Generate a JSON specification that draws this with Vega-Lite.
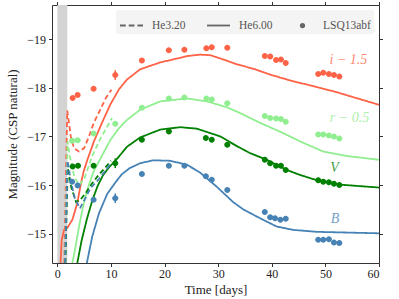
{
  "$schema": "https://vega.github.io/schema/vega-lite/v6.json",
  "width": 327,
  "height": 258,
  "autosize": {"type": "none"},
  "padding": {"left": 52, "top": 5, "right": 20, "bottom": 36},
  "background": "white",
  "config": {
    "font": "Liberation Serif",
    "view": {"stroke": "#333", "strokeWidth": 1},
    "axis": {
      "grid": false,
      "domain": false,
      "tickColor": "#333",
      "tickSize": 3.5,
      "tickWidth": 1,
      "labelFont": "Liberation Serif",
      "labelFontSize": 12,
      "labelColor": "#222",
      "titleFont": "Liberation Serif",
      "titleFontSize": 13,
      "titleFontWeight": "normal",
      "titleColor": "#222"
    }
  },
  "datasets": {
    "band": [{"t0": 0, "t1": 1.85}],
    "obs": [
      {"band": "i", "t": 2.85, "m": -17.79}, {"band": "i", "t": 3.78, "m": -17.85}, {"band": "i", "t": 6.76, "m": -17.98}, {"band": "i", "t": 10.8, "m": -18.26}, {"band": "i", "t": 15.77, "m": -18.56}, {"band": "i", "t": 20.8, "m": -18.77}, {"band": "i", "t": 23.7, "m": -18.78}, {"band": "i", "t": 27.8, "m": -18.81}, {"band": "i", "t": 28.8, "m": -18.83}, {"band": "i", "t": 31.7, "m": -18.82}, {"band": "i", "t": 38.7, "m": -18.65}, {"band": "i", "t": 39.7, "m": -18.64}, {"band": "i", "t": 40.8, "m": -18.57}, {"band": "i", "t": 41.7, "m": -18.58}, {"band": "i", "t": 42.6, "m": -18.51}, {"band": "i", "t": 48.66, "m": -18.28}, {"band": "i", "t": 49.6, "m": -18.31}, {"band": "i", "t": 50.65, "m": -18.28}, {"band": "i", "t": 51.6, "m": -18.26}, {"band": "i", "t": 52.6, "m": -18.23},
      {"band": "r", "t": 2.75, "m": -16.91}, {"band": "r", "t": 3.78, "m": -16.92}, {"band": "r", "t": 6.76, "m": -17.06}, {"band": "r", "t": 10.8, "m": -17.26}, {"band": "r", "t": 15.77, "m": -17.59}, {"band": "r", "t": 20.8, "m": -17.78}, {"band": "r", "t": 23.7, "m": -17.8}, {"band": "r", "t": 27.8, "m": -17.78}, {"band": "r", "t": 28.8, "m": -17.76}, {"band": "r", "t": 31.7, "m": -17.68}, {"band": "r", "t": 38.7, "m": -17.42}, {"band": "r", "t": 39.7, "m": -17.38}, {"band": "r", "t": 40.8, "m": -17.37}, {"band": "r", "t": 41.7, "m": -17.36}, {"band": "r", "t": 42.6, "m": -17.3}, {"band": "r", "t": 48.66, "m": -17.04}, {"band": "r", "t": 49.6, "m": -17.04}, {"band": "r", "t": 50.65, "m": -17.02}, {"band": "r", "t": 51.6, "m": -17.0}, {"band": "r", "t": 52.6, "m": -16.96},
      {"band": "V", "t": 2.85, "m": -16.38}, {"band": "V", "t": 3.85, "m": -16.4}, {"band": "V", "t": 6.76, "m": -16.4}, {"band": "V", "t": 10.8, "m": -16.45}, {"band": "V", "t": 15.77, "m": -16.93}, {"band": "V", "t": 20.8, "m": -17.1}, {"band": "V", "t": 27.7, "m": -16.97}, {"band": "V", "t": 28.8, "m": -16.93}, {"band": "V", "t": 31.7, "m": -16.83}, {"band": "V", "t": 38.7, "m": -16.52}, {"band": "V", "t": 39.7, "m": -16.45}, {"band": "V", "t": 40.8, "m": -16.4}, {"band": "V", "t": 41.7, "m": -16.4}, {"band": "V", "t": 42.6, "m": -16.31}, {"band": "V", "t": 48.66, "m": -16.1}, {"band": "V", "t": 49.6, "m": -16.07}, {"band": "V", "t": 50.65, "m": -16.06}, {"band": "V", "t": 51.6, "m": -16.03}, {"band": "V", "t": 52.6, "m": -16.0},
      {"band": "B", "t": 2.75, "m": -16.07}, {"band": "B", "t": 3.78, "m": -15.99}, {"band": "B", "t": 6.76, "m": -15.7}, {"band": "B", "t": 10.8, "m": -15.73}, {"band": "B", "t": 15.77, "m": -16.23}, {"band": "B", "t": 20.8, "m": -16.4}, {"band": "B", "t": 23.7, "m": -16.4}, {"band": "B", "t": 27.7, "m": -16.18}, {"band": "B", "t": 28.8, "m": -16.11}, {"band": "B", "t": 31.7, "m": -15.9}, {"band": "B", "t": 38.7, "m": -15.45}, {"band": "B", "t": 39.7, "m": -15.34}, {"band": "B", "t": 40.6, "m": -15.32}, {"band": "B", "t": 41.6, "m": -15.29}, {"band": "B", "t": 42.6, "m": -15.31}, {"band": "B", "t": 48.66, "m": -14.88}, {"band": "B", "t": 49.6, "m": -14.88}, {"band": "B", "t": 50.65, "m": -14.89}, {"band": "B", "t": 51.6, "m": -14.82}, {"band": "B", "t": 52.6, "m": -14.81}
    ],
    "err": [
      {"band": "i", "t": 10.8, "lo": -18.36, "hi": -18.16},
      {"band": "r", "t": 10.8, "lo": -17.31, "hi": -17.21},
      {"band": "V", "t": 10.8, "lo": -16.55, "hi": -16.35},
      {"band": "B", "t": 10.8, "lo": -15.83, "hi": -15.63}
    ],
    "models": [
      {"band": "i", "model": "He6.00", "t": 0.6, "m": -14.4}, {"band": "i", "model": "He6.00", "t": 0.8, "m": -14.87}, {"band": "i", "model": "He6.00", "t": 1.25, "m": -15.08}, {"band": "i", "model": "He6.00", "t": 1.86, "m": -15.12}, {"band": "i", "model": "He6.00", "t": 2.8, "m": -15.29}, {"band": "i", "model": "He6.00", "t": 3.72, "m": -15.63}, {"band": "i", "model": "He6.00", "t": 4.34, "m": -16.0}, {"band": "i", "model": "He6.00", "t": 4.9, "m": -16.28}, {"band": "i", "model": "He6.00", "t": 5.6, "m": -16.52}, {"band": "i", "model": "He6.00", "t": 6.83, "m": -16.9}, {"band": "i", "model": "He6.00", "t": 8.4, "m": -17.3}, {"band": "i", "model": "He6.00", "t": 9.9, "m": -17.66}, {"band": "i", "model": "He6.00", "t": 11.5, "m": -17.97}, {"band": "i", "model": "He6.00", "t": 13.0, "m": -18.17}, {"band": "i", "model": "He6.00", "t": 15.46, "m": -18.38}, {"band": "i", "model": "He6.00", "t": 19.18, "m": -18.52}, {"band": "i", "model": "He6.00", "t": 22.3, "m": -18.6}, {"band": "i", "model": "He6.00", "t": 24.15, "m": -18.65}, {"band": "i", "model": "He6.00", "t": 26.6, "m": -18.68}, {"band": "i", "model": "He6.00", "t": 28.5, "m": -18.67}, {"band": "i", "model": "He6.00", "t": 31.0, "m": -18.58}, {"band": "i", "model": "He6.00", "t": 33.5, "m": -18.48}, {"band": "i", "model": "He6.00", "t": 36.6, "m": -18.39}, {"band": "i", "model": "He6.00", "t": 39.7, "m": -18.27}, {"band": "i", "model": "He6.00", "t": 42.8, "m": -18.17}, {"band": "i", "model": "He6.00", "t": 45.25, "m": -18.1}, {"band": "i", "model": "He6.00", "t": 51.45, "m": -17.93}, {"band": "i", "model": "He6.00", "t": 60, "m": -17.65},
      {"band": "r", "model": "He6.00", "t": 2.8, "m": -14.4}, {"band": "r", "model": "He6.00", "t": 3.4, "m": -14.74}, {"band": "r", "model": "He6.00", "t": 4.04, "m": -15.15}, {"band": "r", "model": "He6.00", "t": 4.66, "m": -15.49}, {"band": "r", "model": "He6.00", "t": 5.27, "m": -15.77}, {"band": "r", "model": "He6.00", "t": 5.9, "m": -16.01}, {"band": "r", "model": "He6.00", "t": 6.83, "m": -16.3}, {"band": "r", "model": "He6.00", "t": 8.4, "m": -16.62}, {"band": "r", "model": "He6.00", "t": 9.9, "m": -16.93}, {"band": "r", "model": "He6.00", "t": 11.5, "m": -17.17}, {"band": "r", "model": "He6.00", "t": 13.0, "m": -17.34}, {"band": "r", "model": "He6.00", "t": 15.46, "m": -17.55}, {"band": "r", "model": "He6.00", "t": 19.2, "m": -17.72}, {"band": "r", "model": "He6.00", "t": 24.15, "m": -17.78}, {"band": "r", "model": "He6.00", "t": 27.9, "m": -17.72}, {"band": "r", "model": "He6.00", "t": 31.6, "m": -17.6}, {"band": "r", "model": "He6.00", "t": 34.1, "m": -17.48}, {"band": "r", "model": "He6.00", "t": 37.8, "m": -17.28}, {"band": "r", "model": "He6.00", "t": 41.5, "m": -17.1}, {"band": "r", "model": "He6.00", "t": 45.25, "m": -16.9}, {"band": "r", "model": "He6.00", "t": 49.6, "m": -16.69}, {"band": "r", "model": "He6.00", "t": 53.9, "m": -16.6}, {"band": "r", "model": "He6.00", "t": 60, "m": -16.52},
      {"band": "V", "model": "He6.00", "t": 3.72, "m": -14.4}, {"band": "V", "model": "He6.00", "t": 4.5, "m": -14.85}, {"band": "V", "model": "He6.00", "t": 5.5, "m": -15.3}, {"band": "V", "model": "He6.00", "t": 6.5, "m": -15.68}, {"band": "V", "model": "He6.00", "t": 7.5, "m": -15.98}, {"band": "V", "model": "He6.00", "t": 8.5, "m": -16.2}, {"band": "V", "model": "He6.00", "t": 9.6, "m": -16.36}, {"band": "V", "model": "He6.00", "t": 10.8, "m": -16.5}, {"band": "V", "model": "He6.00", "t": 11.73, "m": -16.62}, {"band": "V", "model": "He6.00", "t": 13.0, "m": -16.79}, {"band": "V", "model": "He6.00", "t": 15.46, "m": -16.98}, {"band": "V", "model": "He6.00", "t": 19.18, "m": -17.14}, {"band": "V", "model": "He6.00", "t": 22.9, "m": -17.19}, {"band": "V", "model": "He6.00", "t": 26.0, "m": -17.16}, {"band": "V", "model": "He6.00", "t": 30.4, "m": -17.0}, {"band": "V", "model": "He6.00", "t": 33.5, "m": -16.8}, {"band": "V", "model": "He6.00", "t": 35.9, "m": -16.66}, {"band": "V", "model": "He6.00", "t": 39.05, "m": -16.52}, {"band": "V", "model": "He6.00", "t": 42.8, "m": -16.31}, {"band": "V", "model": "He6.00", "t": 45.25, "m": -16.21}, {"band": "V", "model": "He6.00", "t": 48.4, "m": -16.1}, {"band": "V", "model": "He6.00", "t": 52.7, "m": -16.01}, {"band": "V", "model": "He6.00", "t": 60, "m": -15.95},
      {"band": "B", "model": "He6.00", "t": 5.5, "m": -14.4}, {"band": "B", "model": "He6.00", "t": 6.5, "m": -14.94}, {"band": "B", "model": "He6.00", "t": 7.76, "m": -15.42}, {"band": "B", "model": "He6.00", "t": 9.3, "m": -15.82}, {"band": "B", "model": "He6.00", "t": 10.8, "m": -16.05}, {"band": "B", "model": "He6.00", "t": 12.0, "m": -16.22}, {"band": "B", "model": "He6.00", "t": 13.5, "m": -16.35}, {"band": "B", "model": "He6.00", "t": 15.46, "m": -16.45}, {"band": "B", "model": "He6.00", "t": 17.9, "m": -16.51}, {"band": "B", "model": "He6.00", "t": 21.0, "m": -16.5}, {"band": "B", "model": "He6.00", "t": 24.15, "m": -16.42}, {"band": "B", "model": "He6.00", "t": 26.6, "m": -16.26}, {"band": "B", "model": "He6.00", "t": 29.7, "m": -15.97}, {"band": "B", "model": "He6.00", "t": 32.8, "m": -15.65}, {"band": "B", "model": "He6.00", "t": 34.7, "m": -15.5}, {"band": "B", "model": "He6.00", "t": 37.8, "m": -15.32}, {"band": "B", "model": "He6.00", "t": 40.9, "m": -15.15}, {"band": "B", "model": "He6.00", "t": 44, "m": -15.08}, {"band": "B", "model": "He6.00", "t": 48.4, "m": -15.04}, {"band": "B", "model": "He6.00", "t": 60, "m": -15.01},
      {"band": "i", "model": "He3.20", "t": 1.3, "m": -14.4}, {"band": "i", "model": "He3.20", "t": 1.6, "m": -16.2}, {"band": "i", "model": "He3.20", "t": 1.85, "m": -17.53}, {"band": "i", "model": "He3.20", "t": 2.2, "m": -17.25}, {"band": "i", "model": "He3.20", "t": 2.5, "m": -17.0}, {"band": "i", "model": "He3.20", "t": 3.1, "m": -16.76}, {"band": "i", "model": "He3.20", "t": 4.0, "m": -16.69}, {"band": "i", "model": "He3.20", "t": 5.0, "m": -16.76}, {"band": "i", "model": "He3.20", "t": 5.9, "m": -17.0}, {"band": "i", "model": "He3.20", "t": 6.8, "m": -17.28}, {"band": "i", "model": "He3.20", "t": 8.0, "m": -17.55}, {"band": "i", "model": "He3.20", "t": 9.0, "m": -17.78}, {"band": "i", "model": "He3.20", "t": 10.1, "m": -17.96},
      {"band": "r", "model": "He3.20", "t": 1.45, "m": -14.4}, {"band": "r", "model": "He3.20", "t": 1.7, "m": -15.8}, {"band": "r", "model": "He3.20", "t": 1.9, "m": -16.9}, {"band": "r", "model": "He3.20", "t": 2.3, "m": -16.6}, {"band": "r", "model": "He3.20", "t": 3.1, "m": -16.2}, {"band": "r", "model": "He3.20", "t": 4.0, "m": -16.0}, {"band": "r", "model": "He3.20", "t": 5.0, "m": -16.12}, {"band": "r", "model": "He3.20", "t": 6.5, "m": -16.6}, {"band": "r", "model": "He3.20", "t": 8.0, "m": -16.95}, {"band": "r", "model": "He3.20", "t": 9.3, "m": -17.2}, {"band": "r", "model": "He3.20", "t": 10.2, "m": -17.38},
      {"band": "V", "model": "He3.20", "t": 1.5, "m": -14.4}, {"band": "V", "model": "He3.20", "t": 1.75, "m": -15.6}, {"band": "V", "model": "He3.20", "t": 1.95, "m": -16.35}, {"band": "V", "model": "He3.20", "t": 2.6, "m": -15.95}, {"band": "V", "model": "He3.20", "t": 3.5, "m": -15.65}, {"band": "V", "model": "He3.20", "t": 4.3, "m": -15.7}, {"band": "V", "model": "He3.20", "t": 5.3, "m": -15.84}, {"band": "V", "model": "He3.20", "t": 6.5, "m": -16.04}, {"band": "V", "model": "He3.20", "t": 7.5, "m": -16.18}, {"band": "V", "model": "He3.20", "t": 8.7, "m": -16.33}, {"band": "V", "model": "He3.20", "t": 10.0, "m": -16.5},
      {"band": "B", "model": "He3.20", "t": 1.45, "m": -14.4}, {"band": "B", "model": "He3.20", "t": 1.7, "m": -15.6}, {"band": "B", "model": "He3.20", "t": 1.9, "m": -16.5}, {"band": "B", "model": "He3.20", "t": 2.5, "m": -16.1}, {"band": "B", "model": "He3.20", "t": 3.2, "m": -15.75}, {"band": "B", "model": "He3.20", "t": 4.2, "m": -15.52}, {"band": "B", "model": "He3.20", "t": 5.3, "m": -15.75}, {"band": "B", "model": "He3.20", "t": 6.2, "m": -15.94}, {"band": "B", "model": "He3.20", "t": 7.8, "m": -16.13}, {"band": "B", "model": "He3.20", "t": 9.0, "m": -16.3}, {"band": "B", "model": "He3.20", "t": 10.0, "m": -16.45}
    ],
    "labels": [
      {"band": "i", "t": 54.3, "m": -18.58, "txt": "i − 1.5"},
      {"band": "r", "t": 54.5, "m": -17.37, "txt": "r − 0.5"},
      {"band": "V", "t": 51.7, "m": -16.35, "txt": "V"},
      {"band": "B", "t": 51.8, "m": -15.3, "txt": "B"}
    ]
  },
  "layer": [
    {
      "data": {"name": "band"},
      "mark": {"type": "rect", "color": "#d3d3d3"},
      "encoding": {
        "x": {"field": "t0", "type": "quantitative", "scale": {"domain": [-1, 60], "nice": false, "zero": false}, "axis": null},
        "x2": {"field": "t1"}
      }
    },
    {
      "data": {"name": "models"},
      "mark": {"type": "line", "strokeWidth": 1.8, "clip": true},
      "encoding": {
        "x": {"field": "t", "type": "quantitative", "scale": {"domain": [-1, 60], "nice": false, "zero": false},
              "axis": {"title": "Time [days]", "values": [0, 10, 20, 30, 40, 50, 60], "labelPadding": 2, "titlePadding": 4}},
        "y": {"field": "m", "type": "quantitative", "scale": {"domain": [-19.7, -14.4], "reverse": true, "nice": false, "zero": false},
              "axis": {"title": "Magnitude (CSP natural)", "values": [-19, -18, -17, -16, -15], "format": "d", "labelPadding": 3, "titlePadding": 7}},
        "color": {"field": "band", "type": "nominal", "scale": {"domain": ["i", "r", "V", "B"], "range": ["#ff6347", "#90ee90", "#008000", "#4682b4"]}, "legend": null},
        "strokeDash": {"field": "model", "type": "nominal", "scale": {"domain": ["He3.20", "He6.00"], "range": [[5, 3], [1, 0]]}, "legend": null}
      }
    },
    {
      "data": {"name": "err"},
      "mark": {"type": "rule", "strokeWidth": 1.5},
      "encoding": {
        "x": {"field": "t", "type": "quantitative", "scale": {"domain": [-1, 60], "nice": false, "zero": false},
              "axis": {"orient": "top", "labels": false, "title": null, "values": [0, 10, 20, 30, 40, 50, 60]}},
        "y": {"field": "lo", "type": "quantitative", "scale": {"domain": [-19.7, -14.4], "reverse": true, "nice": false, "zero": false},
              "axis": {"orient": "right", "labels": false, "title": null, "values": [-19, -18, -17, -16, -15]}},
        "y2": {"field": "hi"},
        "color": {"field": "band", "type": "nominal", "scale": {"domain": ["i", "r", "V", "B"], "range": ["#ff6347", "#90ee90", "#008000", "#4682b4"]}, "legend": null}
      }
    },
    {
      "data": {"name": "obs"},
      "mark": {"type": "point", "filled": true, "size": 1600, "opacity": 1, "strokeWidth": 0},
      "encoding": {
        "x": {"field": "t", "type": "quantitative", "scale": {"domain": [-1, 60], "nice": false, "zero": false}, "axis": null},
        "y": {"field": "m", "type": "quantitative", "scale": {"domain": [-19.7, -14.4], "reverse": true, "nice": false, "zero": false}, "axis": null},
        "color": {"field": "band", "type": "nominal", "scale": {"domain": ["i", "r", "V", "B"], "range": ["#ff6347", "#90ee90", "#008000", "#4682b4"]}, "legend": null},
        "shape": {
          "datum": "LSQ13abf",
          "type": "nominal",
          "scale": {"domain": ["He3.20", "He6.00", "LSQ13abf"], "range": ["M-1,0H-0.5M-0.24,0H0.26M0.52,0H1", "M-1,0H1", "M-0.15,0A0.15,0.15 0 1,0 0.15,0A0.15,0.15 0 1,0 -0.15,0Z"]},
          "legend": {
            "title": null,
            "orient": "top-right",
            "offset": 5,
            "direction": "horizontal",
            "gridAlign": "each",
            "symbolSize": 529,
            "symbolStrokeWidth": 1.8,
            "symbolStrokeColor": "#666",
            "symbolFillColor": "#666",
            "labelFont": "Liberation Serif",
            "labelFontSize": 11.5,
            "labelColor": "#555",
            "labelOffset": 8,
            "columnPadding": 17,
            "padding": 3,
            "fillColor": "#f4f4f4",
            "cornerRadius": 2,
            "encode": {"symbols": {"update": {"fill": {"value": "#666"}, "stroke": {"value": "#666"}, "strokeWidth": {"value": 1.8}, "size": {"value": 529}, "opacity": {"value": 1}}}}
          }
        }
      }
    },
    {
      "data": {"name": "labels"},
      "mark": {"type": "text", "font": "Liberation Serif", "fontSize": 14, "fontStyle": "italic", "opacity": 0.75},
      "encoding": {
        "x": {"field": "t", "type": "quantitative", "scale": {"domain": [-1, 60], "nice": false, "zero": false}, "axis": null},
        "y": {"field": "m", "type": "quantitative", "scale": {"domain": [-19.7, -14.4], "reverse": true, "nice": false, "zero": false}, "axis": null},
        "text": {"field": "txt"},
        "color": {"field": "band", "type": "nominal", "scale": {"domain": ["i", "r", "V", "B"], "range": ["#ff6347", "#90ee90", "#008000", "#4682b4"]}, "legend": null}
      }
    }
  ],
  "resolve": {"axis": {"x": "independent", "y": "independent"}}
}
